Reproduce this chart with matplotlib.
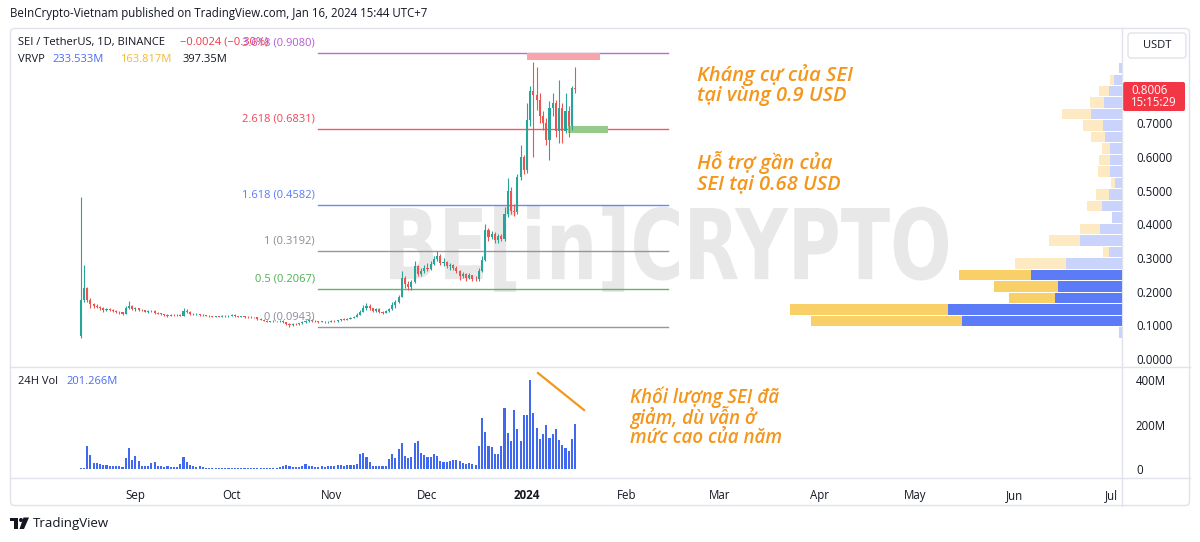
import numpy as np
import pandas as pd
import matplotlib
matplotlib.use("Agg")
import matplotlib.pyplot as plt
import matplotlib.dates as mdates
from matplotlib.patches import Rectangle, FancyBboxPatch, PathPatch, Polygon, Circle
from matplotlib.textpath import TextPath
from matplotlib.font_manager import FontProperties
from matplotlib.transforms import Affine2D

# ---------------- data ----------------
dates = pd.date_range("2023-08-15", "2024-01-16", freq="D")
first_open = 0.068

close_aug = [0.175, 0.210, 0.176, 0.162, 0.158, 0.154, 0.150, 0.146, 0.148, 0.146, 0.143, 0.140, 0.138, 0.135, 0.150, 0.158, 0.147]
high_aug = [0.480, 0.280, 0.215, 0.180, 0.166, 0.162, 0.157, 0.153, 0.152, 0.150, 0.148, 0.145, 0.142, 0.140, 0.158, 0.172, 0.160]
low_aug = [0.062, 0.170, 0.168, 0.150, 0.152, 0.150, 0.145, 0.140, 0.142, 0.142, 0.140, 0.137, 0.135, 0.132, 0.134, 0.148, 0.145]

close_sep = [0.150, 0.146, 0.144, 0.140, 0.141, 0.142, 0.137, 0.135, 0.134, 0.131, 0.128, 0.131, 0.130, 0.131, 0.129,
             0.143, 0.140, 0.134, 0.133, 0.134, 0.131, 0.130, 0.129, 0.127, 0.126, 0.127, 0.126, 0.128, 0.127, 0.128]
high_sep = [0.155, 0.152, 0.148, 0.146, 0.144, 0.145, 0.144, 0.139, 0.137, 0.135, 0.133, 0.134, 0.133, 0.134, 0.133,
            0.152, 0.147, 0.141, 0.137, 0.137, 0.135, 0.133, 0.132, 0.130, 0.129, 0.129, 0.129, 0.130, 0.130, 0.130]
low_sep = [0.143, 0.143, 0.141, 0.138, 0.137, 0.139, 0.135, 0.133, 0.132, 0.129, 0.126, 0.127, 0.128, 0.129, 0.127,
           0.128, 0.136, 0.132, 0.130, 0.131, 0.129, 0.128, 0.127, 0.125, 0.124, 0.125, 0.124, 0.125, 0.126, 0.126]

close_oct = [0.131, 0.127, 0.126, 0.127, 0.125, 0.124, 0.125, 0.124, 0.119, 0.117, 0.114, 0.111, 0.112, 0.113, 0.112, 0.114,
             0.110, 0.104, 0.101, 0.104, 0.103, 0.106, 0.110, 0.112, 0.116, 0.114, 0.112, 0.110, 0.111, 0.109, 0.111]
high_oct = [0.134, 0.133, 0.129, 0.129, 0.128, 0.127, 0.127, 0.126, 0.125, 0.121, 0.118, 0.116, 0.114, 0.115, 0.114, 0.117,
            0.115, 0.111, 0.106, 0.106, 0.106, 0.108, 0.112, 0.116, 0.120, 0.118, 0.116, 0.113, 0.113, 0.112, 0.113]
low_oct = [0.127, 0.125, 0.124, 0.125, 0.123, 0.122, 0.123, 0.122, 0.117, 0.115, 0.112, 0.109, 0.109, 0.111, 0.110, 0.110,
           0.107, 0.102, 0.0943, 0.099, 0.101, 0.102, 0.104, 0.108, 0.110, 0.111, 0.110, 0.108, 0.109, 0.107, 0.108]

close_nov = [0.113, 0.112, 0.115, 0.118, 0.117, 0.120, 0.123, 0.126, 0.132, 0.140, 0.152, 0.158, 0.150, 0.143, 0.147,
             0.140, 0.137, 0.142, 0.148, 0.160, 0.168, 0.185, 0.240, 0.222, 0.215, 0.228, 0.275, 0.252, 0.262, 0.270]
high_nov = [0.116, 0.117, 0.117, 0.120, 0.121, 0.122, 0.125, 0.128, 0.136, 0.145, 0.160, 0.165, 0.162, 0.152, 0.150,
            0.150, 0.143, 0.145, 0.152, 0.168, 0.175, 0.190, 0.260, 0.245, 0.230, 0.235, 0.290, 0.280, 0.270, 0.280]
low_nov = [0.109, 0.110, 0.110, 0.113, 0.115, 0.115, 0.118, 0.121, 0.124, 0.130, 0.138, 0.146, 0.145, 0.139, 0.140,
           0.137, 0.133, 0.136, 0.140, 0.146, 0.150, 0.165, 0.183, 0.210, 0.205, 0.206, 0.225, 0.245, 0.245, 0.255]

close_dec = [0.268, 0.282, 0.298, 0.305, 0.285, 0.288, 0.275, 0.278, 0.270, 0.262, 0.245, 0.252, 0.240, 0.248, 0.238, 0.236,
             0.262, 0.294, 0.383, 0.362, 0.372, 0.352, 0.365, 0.355, 0.430, 0.500, 0.440, 0.436, 0.540, 0.600, 0.560]
high_dec = [0.285, 0.290, 0.305, 0.3192, 0.312, 0.300, 0.292, 0.285, 0.282, 0.275, 0.265, 0.258, 0.255, 0.255, 0.250, 0.245,
            0.270, 0.305, 0.400, 0.390, 0.380, 0.378, 0.370, 0.372, 0.450, 0.537, 0.510, 0.460, 0.550, 0.635, 0.605]
low_dec = [0.260, 0.265, 0.278, 0.290, 0.280, 0.275, 0.270, 0.265, 0.263, 0.255, 0.235, 0.240, 0.232, 0.236, 0.232, 0.230,
           0.232, 0.258, 0.290, 0.350, 0.355, 0.345, 0.345, 0.350, 0.350, 0.420, 0.430, 0.425, 0.430, 0.530, 0.550]

close_jan = [0.709, 0.795, 0.783, 0.770, 0.720, 0.700, 0.650, 0.745, 0.760, 0.676, 0.745, 0.676, 0.735, 0.690, 0.803, 0.8006]
high_jan = [0.760, 0.810, 0.880, 0.866, 0.790, 0.735, 0.715, 0.765, 0.790, 0.770, 0.828, 0.760, 0.790, 0.750, 0.810, 0.866]
low_jan = [0.552, 0.690, 0.600, 0.740, 0.700, 0.680, 0.635, 0.590, 0.720, 0.660, 0.640, 0.642, 0.670, 0.660, 0.680, 0.790]

# 24H volume, millions
vol_aug = [5, 6, 105, 65, 28, 25, 22, 20, 18, 15, 14, 12, 12, 10, 50, 94, 40]
vol_sep = [60, 37, 15, 12, 13, 25, 30, 15, 12, 10, 12, 10, 9, 9, 22, 56, 30, 18, 12, 10, 15, 10, 6, 5, 5, 6, 5, 5, 6, 5]
vol_oct = [6, 5, 5, 6, 5, 5, 4, 5, 5, 5, 6, 5, 5, 6, 6, 8, 12, 18, 14, 10, 9, 8, 12, 22, 15, 12, 10, 11, 12, 10, 15]
vol_nov = [14, 12, 16, 18, 14, 17, 20, 20, 22, 67, 71, 52, 30, 15, 15, 14, 15, 12, 45, 67, 50, 92, 116, 60, 50, 52,
           119, 126, 71, 62]
vol_dec = [56, 56, 67, 60, 37, 30, 33, 35, 42, 40, 37, 27, 22, 25, 22, 20, 104, 230, 167, 104, 97, 67, 67, 104, 272,
           164, 126, 263, 178, 126, 241]
vol_jan = [241, 400, 253, 186, 137, 156, 196, 141, 156, 178, 131, 110, 94, 82, 134, 201]

# fibonacci extension
fib_names = ["0", "0.5", "1", "1.618", "2.618", "3.618"]
fib_prices = [0.0943, 0.2067, 0.3192, 0.4582, 0.6831, 0.9080]
fib_colors = ["#8a8d96", "#4caf50", "#8a8d96", "#5a7bf5", "#f0475a", "#b45ad6"]

# visible range volume profile (24 rows, bottom to top), up / down volume
vp_up = [0.9, 42.3, 46.1, 17.6, 16.8, 24.0, 14.7, 3.4, 11.0, 5.7, 2.6, 5.3, 3.5, 1.8, 3.1, 3.3, 3.1, 4.4, 4.9,
         8.2, 4.7, 3.4, 2.0, 0.9]
vp_down = [0.0, 40.1, 41.8, 12.3, 17.0, 19.2, 13.7, 1.5, 8.4, 5.5, 0.0, 4.0, 3.5, 1.1, 3.3, 2.9, 2.2, 3.7, 5.3,
           7.7, 3.7, 2.8, 1.1, 0.0]
vp_low, vp_high = 0.0615, 0.880
va_low, va_high = 0.095, 0.266

price_ticks = [0.0, 0.1, 0.2, 0.3, 0.4, 0.5, 0.6, 0.7]
vol_ticks = [0, 200, 400]
vol_tick_labels = ["0", "200M", "400M"]
month_starts = pd.to_datetime(["2023-09-01", "2023-10-01", "2023-11-01", "2023-12-01", "2024-01-01",
                               "2024-02-01", "2024-03-01", "2024-04-01", "2024-05-01", "2024-06-01", "2024-07-01"])
month_labels = ["Sep", "Oct", "Nov", "Dec", "2024", "Feb", "Mar", "Apr", "May", "Jun", "Jul"]

# ---------------- layout ----------------
W, H = 1200, 542
UP, DOWN = "#26a69a", "#ef5350"
TXT = "#131722"
BORDER = "#e0e3eb"
ORANGE = "#f5961c"
FONT = "Open Sans"
plt.rcParams["font.family"] = [FONT, "DejaVu Sans"]

closes = np.array(close_aug + close_sep + close_oct + close_nov + close_dec + close_jan)
highs = np.array(high_aug + high_sep + high_oct + high_nov + high_dec + high_jan)
lows = np.array(low_aug + low_sep + low_oct + low_nov + low_dec + low_jan)
opens = np.concatenate([[first_open], closes[:-1]])
volumes = np.array(vol_aug + vol_sep + vol_oct + vol_nov + vol_dec + vol_jan)
x = mdates.date2num(dates)

PX_PER_DAY = 3.21
JAN1 = mdates.date2num(pd.Timestamp("2024-01-01"))
PANE_L, PANE_R = 10, 1122


def px_to_num(px):
    return JAN1 + (px - 527) / PX_PER_DAY


def price_y(py):
    return (359 - py) / 337.0


fig = plt.figure(figsize=(W / 100, H / 100), dpi=100)
fig.patch.set_facecolor("white")

# overlay in pixel coordinates
ov = fig.add_axes([0, 0, 1, 1], zorder=0)
ov.set_xlim(0, W)
ov.set_ylim(H, 0)
ov.axis("off")

ov.add_patch(FancyBboxPatch((10.5, 28.5), 1179, 477, boxstyle="round,pad=0,rounding_size=4",
                            fc="white", ec=BORDER, lw=1))
ov.plot([10, 1190], [367, 367], color=BORDER, lw=1)
ov.plot([10, 1190], [478, 478], color=BORDER, lw=1)
ov.plot([PANE_R, PANE_R], [28, 506], color=BORDER, lw=1)

# watermark
tp = TextPath((0, 0), "BE[in]CRYPTO", prop=FontProperties(family="DejaVu Sans", weight="bold"), size=100)
ext = tp.get_extents()
tr = Affine2D().translate(-ext.x0, -ext.y0).scale(558 / ext.width, -87 / ext.height).translate(390, 292)
ov.add_patch(PathPatch(tr.transform_path(tp), fc="#e8e8e8", ec="none"))

# header texts
ov.text(10, 14, "BeInCrypto-Vietnam published on TradingView.com, Jan 16, 2024 15:44 UTC+7",
        fontsize=8.3, color=TXT, va="center", ha="left")
ov.text(18, 42, "SEI / TetherUS, 1D, BINANCE", fontsize=8, color=TXT, va="center")
ov.text(180, 42, "\u22120.0024 (\u22120.30%)", fontsize=8, color="#f23645", va="center")
ov.text(18, 60, "VRVP", fontsize=8, color=TXT, va="center")
ov.text(52, 60, "233.533M", fontsize=8, color="#4a6cf7", va="center")
ov.text(120, 60, "163.817M", fontsize=8, color="#f5b82e", va="center")
ov.text(183, 60, "397.35M", fontsize=8, color=TXT, va="center")
ov.text(18, 382, "24H Vol", fontsize=8, color=TXT, va="center")
ov.text(66, 382, "201.266M", fontsize=8, color="#4a6cf7", va="center")

# USDT box and last price badge
ov.add_patch(FancyBboxPatch((1128, 33), 58, 25, boxstyle="round,pad=0,rounding_size=3", fc="white", ec=BORDER, lw=1))
ov.text(1157, 45.5, "USDT", fontsize=8, color=TXT, ha="center", va="center")
ov.add_patch(FancyBboxPatch((1123, 82), 62, 29, boxstyle="round,pad=0,rounding_size=2", fc="#f23645", ec="none"))
ov.text(1131, 90, "0.8006", fontsize=8.3, color="white", va="center")
ov.text(1131, 103, "15:15:29", fontsize=8.3, color="white", va="center")

# annotations
ov.text(697, 64, "Kháng cự của SEI\ntại vùng 0.9 USD", fontsize=14.5, color=ORANGE, style="italic",
        weight="semibold", va="top", ha="left", linespacing=0.98)
ov.text(697, 151, "Hỗ trợ gần của\nSEI tại 0.68 USD", fontsize=14.5, color=ORANGE, style="italic",
        weight="semibold", va="top", ha="left", linespacing=0.98)
ov.text(630, 386, "Khối lượng SEI đã\ngiảm, dù vẫn ở\nmức cao của năm", fontsize=13.5, color=ORANGE,
        style="italic", weight="semibold", va="top", ha="left", linespacing=0.92)
ov.plot([538, 584], [373, 410], color=ORANGE, lw=1.6)

# TradingView logo
ov.add_patch(Rectangle((10, 517.5), 8, 3.5, fc="#131722"))
ov.add_patch(Rectangle((14, 517.5), 4, 11.5, fc="#131722"))
ov.add_patch(Circle((21, 520), 2, fc="#131722"))
ov.add_patch(Polygon([[23.5, 517.5], [29, 517.5], [24, 529], [19.5, 529]], fc="#131722"))
ov.text(33, 523.5, "TradingView", fontsize=9.5, color=TXT, va="center")

# ---------------- price pane ----------------
ax = fig.add_axes([PANE_L / W, 1 - 367 / H, (PANE_R - PANE_L) / W, 337 / H], zorder=2)
ax.patch.set_alpha(0)
for s in ax.spines.values():
    s.set_visible(False)
ax.set_xlim(px_to_num(PANE_L), px_to_num(PANE_R))
ax.set_ylim(price_y(367), price_y(30))

up = closes >= opens
cols = np.where(up, UP, DOWN)
body_lo = np.minimum(opens, closes)
body_h = np.maximum(np.abs(closes - opens), 0.0016)
hi = np.maximum(highs, np.maximum(opens, closes))
lo = np.minimum(lows, np.minimum(opens, closes))
ax.vlines(x, lo, hi, colors=cols, lw=0.8, zorder=3)
ax.bar(x, body_h, bottom=body_lo, width=0.66, color=cols, zorder=4)

# fib levels
fx0, fx1 = px_to_num(318), px_to_num(668)
for name, p, c in zip(fib_names, fib_prices, fib_colors):
    ax.plot([fx0, fx1], [p, p], color=c, lw=1, zorder=2, alpha=0.9)
    ax.annotate(f"{name} ({p:.4f})", xy=(fx0, p), xytext=(-3, 10), textcoords="offset pixels",
                ha="right", va="center", fontsize=8, color=c, zorder=5)

# resistance / support zones
ax.add_patch(Rectangle((px_to_num(527), 0.887), px_to_num(600) - px_to_num(527), 0.021,
                       fc="#f7a4ab", ec="none", zorder=2))
ax.add_patch(Rectangle((px_to_num(568), 0.671), px_to_num(608) - px_to_num(568), 0.019,
                       fc="#97c98a", ec="none", zorder=2))

ax.yaxis.tick_right()
ax.set_yticks(price_ticks)
ax.set_yticklabels([f"{t:.4f}" for t in price_ticks])
ax.tick_params(axis="y", length=0, pad=10, labelsize=8.3, labelcolor=TXT)
ax.set_xticks([])

# volume profile, growing left from the price scale
vp = fig.add_axes([PANE_L / W, 1 - 367 / H, (PANE_R - PANE_L) / W, 337 / H], zorder=1.5)
vp.patch.set_alpha(0)
vp.axis("off")
vp.set_ylim(ax.get_ylim())
vp.set_xlim((PANE_R - PANE_L) / 3.78, 0)
edges = np.linspace(vp_low, vp_high, len(vp_up) + 1)
row_h = edges[1] - edges[0]
for i, (u, d) in enumerate(zip(vp_up, vp_down)):
    mid = edges[i] + row_h / 2
    inside = va_low <= mid <= va_high
    cu = "#5b7cf6" if inside else "#c9d3fb"
    cd = "#f9cf68" if inside else "#fdeac2"
    vp.barh(mid, u, left=0, height=row_h * 0.9, color=cu)
    if d > 0:
        vp.barh(mid, d, left=u, height=row_h * 0.9, color=cd)

# ---------------- volume pane ----------------
av = fig.add_axes([PANE_L / W, 1 - 478 / H, (PANE_R - PANE_L) / W, 111 / H], zorder=2)
av.patch.set_alpha(0)
for s in av.spines.values():
    s.set_visible(False)
av.set_xlim(ax.get_xlim())
av.set_ylim(-(478 - 469) / 89 * 400, (469 - 367) / 89 * 400)
av.bar(x, volumes, width=0.66, color="#4169f0")
av.yaxis.tick_right()
av.set_yticks(vol_ticks)
av.set_yticklabels(vol_tick_labels)
av.tick_params(axis="y", length=0, pad=10, labelsize=8.3, labelcolor=TXT)
av.set_xticks(mdates.date2num(month_starts))
av.set_xticklabels(month_labels)
av.tick_params(axis="x", length=0, pad=8, labelsize=8.3, labelcolor=TXT)
for lbl in av.get_xticklabels():
    if lbl.get_text() == "2024":
        lbl.set_fontweight("bold")

fig.savefig("out.png", dpi=100, facecolor="white")
